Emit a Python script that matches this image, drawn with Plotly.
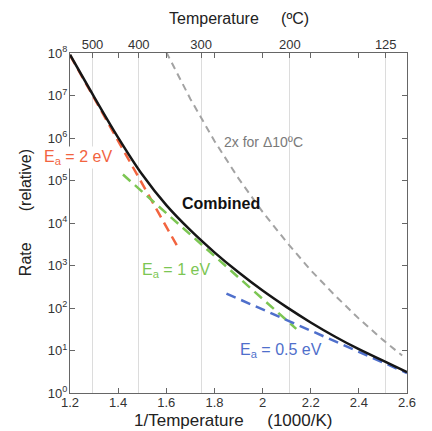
import plotly.graph_objects as go

# ---- data ----
inv_T = [1.2, 1.3, 1.4, 1.5, 1.6, 1.7, 1.8, 1.9, 2.0, 2.1, 2.2, 2.3, 2.4, 2.5, 2.6]
combined_log10 = [7.96, 6.97, 6.01, 5.14, 4.42, 3.83, 3.31, 2.84, 2.41, 2.02, 1.66, 1.33, 1.03, 0.76, 0.49]

ea2_x = [1.2, 1.65]
ea2_log10 = [7.95, 3.41]
ea1_x = [1.42, 2.14]
ea1_log10 = [5.14, 1.51]
ea05_x = [1.85, 2.6]
ea05_log10 = [2.34, 0.47]

double_x = [1.60, 1.7, 1.8, 1.9, 2.0, 2.1, 2.2, 2.3, 2.4, 2.5, 2.58]
double_log10 = [8.02, 6.92, 5.93, 5.05, 4.26, 3.55, 2.89, 2.30, 1.75, 1.25, 0.88]

x_ticks = [1.2, 1.4, 1.6, 1.8, 2.0, 2.2, 2.4, 2.6]
x_ticktext = ["1.2", "1.4", "1.6", "1.8", "2", "2.2", "2.4", "2.6"]
temps_c = [500, 400, 300, 200, 125]
y_exponents = list(range(0, 9))

FONT = "Liberation Sans, Arial, Helvetica, sans-serif"

def pw(vals):
    return [10 ** v for v in vals]

fig = go.Figure()
fig.add_trace(go.Scatter(x=double_x, y=pw(double_log10), mode="lines",
                         line=dict(color="#a3a3a3", width=2, dash="7px,5px"),
                         hoverinfo="skip", showlegend=False))
fig.add_trace(go.Scatter(x=ea2_x, y=pw(ea2_log10), mode="lines",
                         line=dict(color="#f2643f", width=2.5, dash="10px,6px"),
                         showlegend=False))
fig.add_trace(go.Scatter(x=ea1_x, y=pw(ea1_log10), mode="lines",
                         line=dict(color="#7cc653", width=2.5, dash="10px,6px"),
                         showlegend=False))
fig.add_trace(go.Scatter(x=ea05_x, y=pw(ea05_log10), mode="lines",
                         line=dict(color="#4f6fcb", width=2.5, dash="10px,6px"),
                         showlegend=False))
fig.add_trace(go.Scatter(x=inv_T, y=pw(combined_log10), mode="lines",
                         line=dict(color="#161616", width=2.5, shape="spline"),
                         showlegend=False))
# invisible trace to anchor the top (temperature) axis
fig.add_trace(go.Scatter(x=[1.2, 2.6], y=[1, 1], xaxis="x2", mode="lines",
                         line=dict(width=0), hoverinfo="skip", showlegend=False))

top_vals = [1000.0 / (t + 273.15) for t in temps_c]

fig.update_layout(
    width=424, height=423,
    margin=dict(l=62, r=25, t=45, b=38),
    paper_bgcolor="white", plot_bgcolor="white",
    font=dict(family=FONT, color="#333333"),
    xaxis=dict(range=[1.2, 2.6], tickvals=x_ticks, ticktext=x_ticktext,
               ticks="inside", ticklen=5, tickcolor="#666", mirror="ticks",
               showline=True, linecolor="#666", linewidth=1.2, showgrid=False,
               zeroline=False, tickfont=dict(size=13, color="#333"),
               ticklabelstandoff=-3, automargin=False),
    xaxis2=dict(range=[1.2, 2.6], overlaying="x", side="top", tickvals=top_vals,
                ticktext=[str(t) for t in temps_c], ticks="inside", ticklen=5, tickcolor="#666",
                showgrid=True, gridcolor="#dcdcdc", gridwidth=1, zeroline=False,
                tickfont=dict(size=13, color="#333"), automargin=False),
    yaxis=dict(type="log", range=[0, 8], tickvals=[10 ** e for e in y_exponents],
               ticktext=["10<sup>%d</sup>" % e for e in y_exponents],
               ticks="inside", ticklen=5, tickcolor="#666", mirror="ticks",
               showline=True, linecolor="#666", linewidth=1.2, showgrid=False,
               zeroline=False, tickfont=dict(size=13, color="#333"),
               ticklabelstandoff=-1, automargin=False),
    annotations=[
        # axis titles
        dict(x=0.5, y=0, xref="paper", yref="paper", text="1/Temperature     (1000/K)",
             showarrow=False, xanchor="center", yanchor="middle", yshift=-27, xshift=-6,
             font=dict(size=17, color="#222")),
        dict(x=0.5, y=1, xref="paper", yref="paper", text="Temperature     (ºC)",
             showarrow=False, xanchor="center", yanchor="middle", yshift=35,
             font=dict(size=16, color="#222")),
        dict(x=0, y=0.529, xref="paper", yref="paper", text="Rate       (relative)",
             showarrow=False, xanchor="center", yanchor="middle", xshift=-45, textangle=-90,
             font=dict(size=16, color="#222")),
        # curve labels
        dict(x=1.83, y=5.9, xref="x", yref="y", text="2x for Δ10ºC", showarrow=False,
             xanchor="left", yanchor="middle", font=dict(size=14, color="#7a7a7a")),
        dict(x=1.656, y=4.45, xref="x", yref="y", text="<b>Combined</b>", showarrow=False,
             xanchor="left", yanchor="middle", font=dict(size=16, color="#111")),
        dict(x=-0.083, y=5.55 / 8, xref="paper", yref="paper", text="E<sub>a</sub> = 2 eV", showarrow=False,
             xanchor="left", yanchor="middle", bgcolor="white", font=dict(size=16, color="#f2643f")),
        dict(x=1.49, y=2.89, xref="x", yref="y", text="E<sub>a</sub> = 1 eV", showarrow=False,
             xanchor="left", yanchor="middle", font=dict(size=16, color="#7cc653")),
        dict(x=1.897, y=1.0, xref="x", yref="y", text="E<sub>a</sub> = 0.5 eV", showarrow=False,
             xanchor="left", yanchor="middle", font=dict(size=16, color="#4f6fcb")),
    ],
)

fig.write_html("out.html")
